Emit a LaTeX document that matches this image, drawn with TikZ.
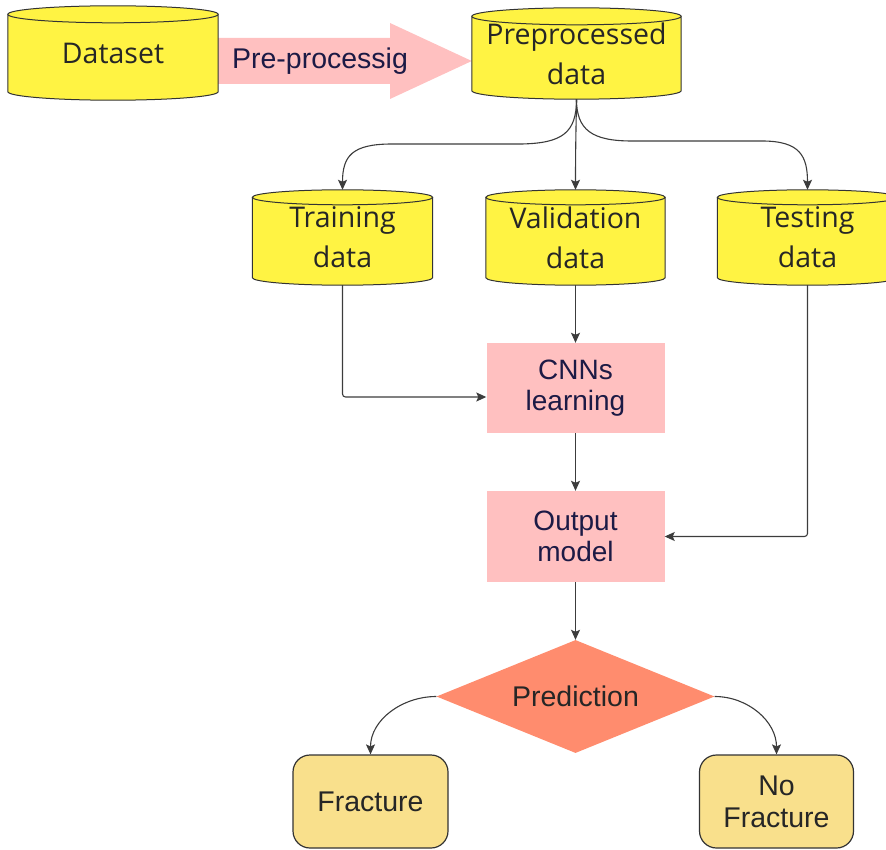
\documentclass[tikz,border=0pt]{standalone}
\usepackage{fontspec}
\newfontfamily\cylfont{Open Sans}
\newfontfamily\labelfont{Liberation Sans}
\usetikzlibrary{shapes.geometric,arrows.meta,backgrounds,calc}

\definecolor{cylyellow}{HTML}{FFF343}
\definecolor{stepPink}{HTML}{FFC0C0}
\definecolor{decisionSalmon}{HTML}{FF8C6E}
\definecolor{resultGold}{HTML}{F9E08C}
\definecolor{lineGray}{HTML}{3C3C3C}
\definecolor{edgeGray}{HTML}{333333}
\definecolor{inkNavy}{HTML}{1C1A45}
\definecolor{inkDark}{HTML}{262626}

\tikzset{
  x=1pt, y=1pt,
  cyl/.style={rectangle, inner sep=0pt, align=center, text=inkDark,
    font=\cylfont\fontsize{28.5}{40}\selectfont},
  cylshape/.style={fill=cylyellow, draw=edgeGray, line width=1pt},
  stepbox/.style={rectangle, fill=stepPink, inner sep=0pt, align=center,
    minimum width=178, minimum height=90, text=inkNavy,
    font=\labelfont\fontsize{28}{31.5}\selectfont},
  decision/.style={diamond, fill=decisionSalmon, inner sep=0pt,
    minimum width=278, minimum height=113, aspect=2.46, text=inkDark,
    font=\labelfont\fontsize{28.5}{32}\selectfont},
  result/.style={rectangle, rounded corners=17pt, fill=resultGold,
    draw=edgeGray, line width=1.2pt, inner sep=0pt, align=center,
    minimum width=155, minimum height=93, text=inkDark,
    font=\labelfont\fontsize{28.5}{32}\selectfont},
  conn/.style={draw=lineGray, line width=1.1pt,
    -{Stealth[length=10pt,width=9pt,inset=2pt]}},
}

% cylinder drawn round a named node: #1 node, #2 half height of the end ellipses (pt)
\newcommand\cylinderbody[2]{%
  \path[cylshape] let \p1=(#1.north west), \p2=(#1.south east),
      \n1={(\x2-\x1)/2} in
    (\x1,\y1-#2pt) -- (\x1,\y2+#2pt)
    arc[start angle=180, end angle=360, x radius=\n1, y radius=#2pt]
    -- (\x2,\y1-#2pt)
    arc[start angle=0, end angle=180, x radius=\n1, y radius=#2pt] -- cycle
    (\x1+\n1,\y1-#2pt) ellipse[x radius=\n1, y radius=#2pt];
}

\begin{document}
\begin{tikzpicture}
\useasboundingbox (0,0) rectangle (886,-850);

% data stores
\node[cyl, minimum width=210, minimum height=94] (ds) at (113,-53) {Dataset};
\node[cyl, minimum width=209, minimum height=91] (pp) at (576.5,-53.5) {Preprocessed\\data};
\node[cyl, minimum width=180, minimum height=95] (tr) at (342.5,-237.5) {Training\\data};
\node[cyl, minimum width=179, minimum height=95] (va) at (575.5,-237.5) {Validation\\data};
\node[cyl, minimum width=180, minimum height=95] (te) at (807.5,-237.5) {Testing\\data};

% pre-processing label on the wide arrow
\node[text=inkNavy, font=\labelfont\fontsize{28.5}{32}\selectfont, inner sep=0pt]
  (prep) at (320,-61) {Pre-processig};

% processing steps
\node[stepbox] (cnn) at (575.5,-388) {CNNs\\learning};
\node[stepbox, minimum height=91] (om) at (575.5,-536.5) {Output\\model};

% decision and outcomes
\node[decision] (pr) at (575.5,-696.5) {Prediction};
\node[result] (fr) at (370.5,-801.5) {Fracture};
\node[result, minimum width=154] (nf) at (776.5,-801.5) {No\\Fracture};

\begin{pgfonlayer}{background}
  \clip (0,0) rectangle (886,-850);
  \fill[stepPink] (ds.east |- 0,-38) -- (390,-38) -- (390,-23)
    -- (pp.west |- 0,-61) -- (390,-99) -- (390,-84) -- (ds.east |- 0,-84) -- cycle;
  \cylinderbody{ds}{8.5}
  \cylinderbody{pp}{8.5}
  \cylinderbody{tr}{7.5}
  \cylinderbody{va}{7.5}
  \cylinderbody{te}{7.5}
\end{pgfonlayer}

% split of the preprocessed data
\draw[conn] (pp.south) .. controls (576.5,-133) and (562,-143) .. (522,-144)
  -- (392,-144) .. controls (352,-144) and (342.5,-156) .. (tr.north);
\draw[conn] (pp.south) .. controls (576,-130) and (575.5,-150) .. (va.north);
\draw[conn] (pp.south) .. controls (576.5,-130) and (592,-141) .. (632,-141)
  -- (762,-141) .. controls (800,-141) and (807.5,-156) .. (te.north);

% training flow
\draw[conn, rounded corners=3pt] (tr.south) |- ($(cnn.west)+(0,-9)$);
\draw[conn] (va.south) -- (cnn.north);
\draw[conn] (cnn.south) -- (om.north);
\draw[conn, rounded corners=3pt] (te.south) |- (om.east);
\draw[conn] (om.south) -- (pr.north);

% outcomes
\draw[conn] (pr.west) to[out=180, in=90] (fr.north);
\draw[conn] (pr.east) to[out=0, in=90] (nf.north);
\end{tikzpicture}
\end{document}
